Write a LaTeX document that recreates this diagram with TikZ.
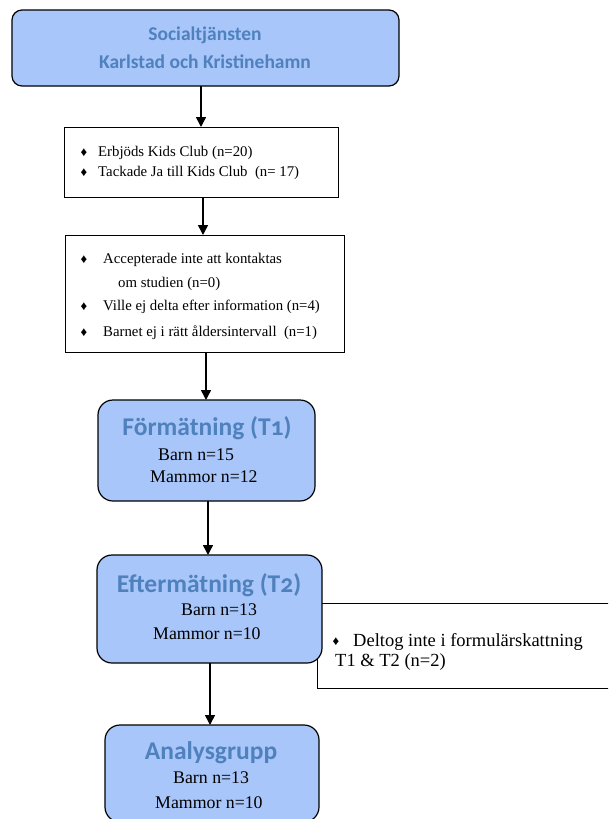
\documentclass[tikz,border=0pt]{standalone}
\usepackage{fontspec}
\setmainfont{Liberation Serif}
\newfontfamily\calib[Numbers=OldStyle]{Carlito}
\usetikzlibrary{arrows.meta}
\definecolor{boxfill}{RGB}{168,198,250}
\definecolor{titleblue}{RGB}{79,129,189}
\begin{document}
\begin{tikzpicture}[x=1pt,y=-1pt,
  bluebox/.style={draw=black, line width=1.2pt, fill=boxfill, rounded corners=15pt, anchor=north west, inner sep=0pt, outer sep=0pt},
  plainbox/.style={draw=black, line width=1pt, fill=white, anchor=north west, inner sep=0pt, outer sep=0pt},
  arr/.style={-{Triangle[length=10pt,width=10pt]}, line width=1.5pt},
  titletext/.style={font=\calib\bfseries\fontsize{25.5}{29}\selectfont, text=titleblue, inner sep=0pt},
  toptext/.style={font=\calib\bfseries\fontsize{19.5}{23}\selectfont, text=titleblue, inner sep=0pt},
  bodytext/.style={font=\fontsize{17.8}{21}\selectfont, anchor=west, inner sep=0pt},
  sidetext/.style={font=\fontsize{18.5}{22}\selectfont, anchor=west, inner sep=0pt},
  smalltext/.style={font=\fontsize{14.8}{18}\selectfont, anchor=west, inner sep=0pt},
  bul/.style={font=\fontsize{13}{15}\selectfont, inner sep=0pt}]
\useasboundingbox (0,0) rectangle (608,819);
\clip (0,0) rectangle (608,819);

% top box
\node[bluebox, rounded corners=10pt, minimum width=387pt, minimum height=76pt] (top) at (12,10) {};
\node[toptext] (top1) at (205,35) {Socialtjänsten};
\node[toptext] (top2) at (205,62) {Karlstad och Kristinehamn};

% box 2
\node[plainbox, minimum width=274pt, minimum height=70pt] (box2) at (64,127) {};
\node[bul] (b2a) at (84,153) {♦};
\node[smalltext] (t2a) at (98,153) {Erbjöds Kids Club (n=20)};
\node[bul] (b2b) at (84,173) {♦};
\node[smalltext] (t2b) at (98,173) {Tackade Ja till Kids Club\ \ (n= 17)};

% box 3
\node[plainbox, minimum width=279pt, minimum height=117pt] (box3) at (65,235) {};
\node[bul] (b3a) at (84,260) {♦};
\node[smalltext] (t3a) at (103,260) {Accepterade inte att kontaktas};
\node[smalltext] (t3b) at (118,284) {om studien (n=0)};
\node[bul] (b3c) at (84,307) {♦};
\node[smalltext] (t3c) at (103,307) {Ville ej delta efter information (n=4)};
\node[bul] (b3d) at (84,333) {♦};
\node[smalltext] (t3d) at (103,333) {Barnet ej i rätt åldersintervall\ \ (n=1)};

% T1
\node[bluebox, minimum width=217pt, minimum height=101pt] (tone) at (98,400) {};
\node[titletext] (tonet) at (207,428) {Förmätning (T1)};
\node[bodytext] (toneb) at (158,455) {Barn n=15};
\node[bodytext] (tonem) at (150,477) {Mammor n=12};

% side box (drawn before T2)
\node[plainbox, minimum width=323pt, minimum height=85pt] (side) at (317,603) {};
\node[bul] (bs) at (336,642) {♦};
\node[sidetext] (sa) at (353,642) {Deltog inte i formulärskattning};
\node[sidetext] (sb) at (335,662) {T1 \& T2 (n=2)};

% T2
\node[bluebox, minimum width=225pt, minimum height=108pt] (ttwo) at (97,555) {};
\node[titletext] (ttwot) at (209,585) {Eftermätning (T2)};
\node[bodytext] (ttwob) at (181,610) {Barn n=13};
\node[bodytext] (ttwom) at (153,634) {Mammor n=10};

% Analysgrupp
\node[bluebox, minimum width=214pt, minimum height=97pt] (ana) at (105,725) {};
\node[titletext] (anat) at (211,753) {Analysgrupp};
\node[bodytext] (anab) at (173,778) {Barn n=13};
\node[bodytext] (anam) at (155,803) {Mammor n=10};

% arrows
\draw[arr] ([xshift=-4.5pt]top.south) -- ([xshift=-4.5pt]top.south |- box2.north);
\draw[arr] ([xshift=2pt]box2.south) -- ([xshift=2pt]box2.south |- box3.north);
\draw[arr] ([xshift=1.5pt]box3.south) -- ([xshift=1.5pt]box3.south |- tone.north);
\draw[arr] ([xshift=1.5pt]tone.south) -- ([xshift=1.5pt]tone.south |- ttwo.north);
\draw[arr] ([xshift=0.5pt]ttwo.south) -- ([xshift=0.5pt]ttwo.south |- ana.north);
\end{tikzpicture}
\end{document}
